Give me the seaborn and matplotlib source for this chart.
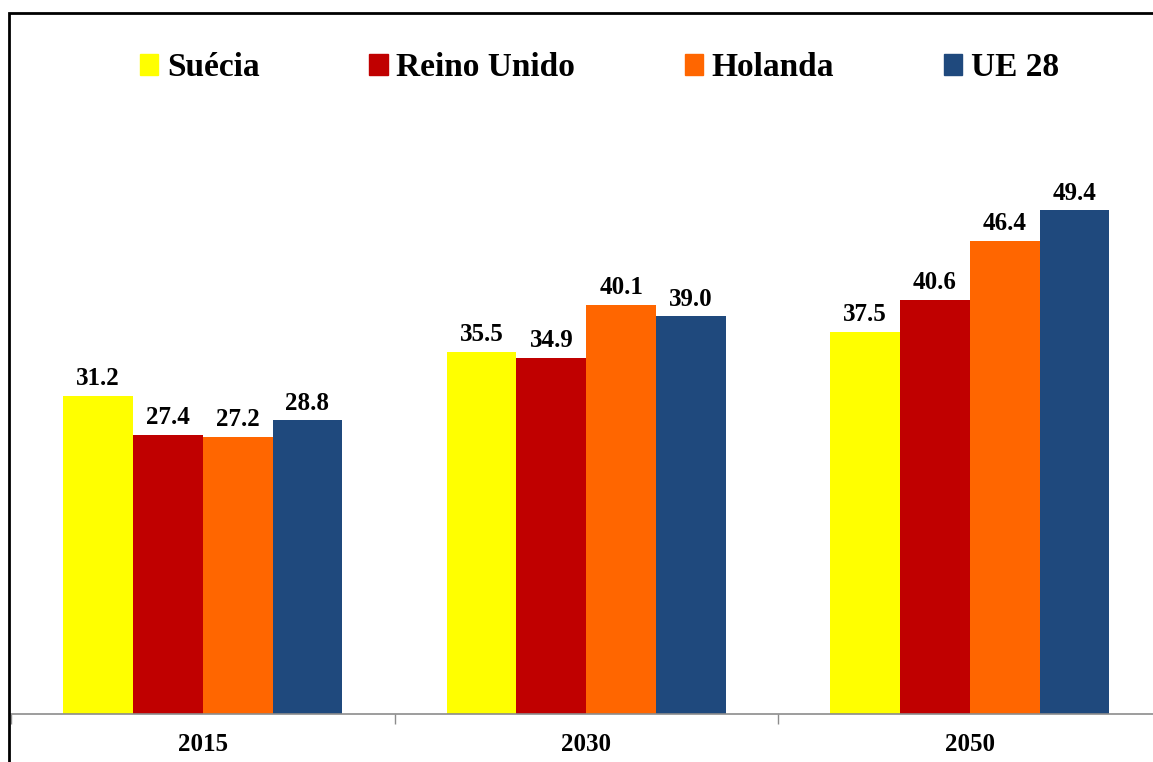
import pandas as pd
import seaborn as sns
import matplotlib.pyplot as plt
from matplotlib.patches import Rectangle

# data
years = ['2015', '2030', '2050']
countries = ['Suécia', 'Reino Unido', 'Holanda', 'UE 28']
suecia = [31.2, 35.5, 37.5]
reino_unido = [27.4, 34.9, 40.6]
holanda = [27.2, 40.1, 46.4]
ue28 = [28.8, 39.0, 49.4]
colors = ['#FFFF00', '#C00000', '#FF6600', '#1F497D']

rows = []
for name, vals in zip(countries, [suecia, reino_unido, holanda, ue28]):
    for yr, v in zip(years, vals):
        rows.append({'Ano': yr, 'País': name, 'Valor': v})
df = pd.DataFrame(rows)

sns.set_style('white')
plt.rcParams['font.family'] = ['Liberation Serif', 'DejaVu Serif']
plt.rcParams['font.weight'] = 'bold'
plt.rcParams['text.color'] = 'black'
plt.rcParams['xtick.color'] = 'black'

fig = plt.figure(figsize=(11.53, 7.62), dpi=100)
ax = fig.add_axes([11 / 1153, 48 / 762, 1150.5 / 1153, 612 / 762])

sns.barplot(data=df, x='Ano', y='Valor', hue='País', hue_order=countries,
            order=years, palette=colors, width=0.728, gap=0, ax=ax,
            saturation=1, linewidth=0, legend=True)

ax.set_ylim(0, 60)
ax.set_xlim(-0.5, 2.5)
ax.set_xlabel('')
ax.set_ylabel('')
ax.set_yticks([])

for c in ax.containers:
    ax.bar_label(c, fmt='%.1f', padding=4, fontsize=18, fontweight='bold',
                 color='black')

for s in ['top', 'right', 'left']:
    ax.spines[s].set_visible(False)
ax.spines['bottom'].set_color('#8c8c8c')
ax.spines['bottom'].set_linewidth(1.2)

ax.tick_params(axis='x', which='major', length=0, pad=14, labelsize=18,
               labelcolor='black')
for t in ax.get_xticklabels():
    t.set_fontweight('bold')
ax.set_xticks([-0.5, 0.5, 1.5, 2.5], minor=True)
ax.tick_params(axis='x', which='minor', length=7, width=1, color='#8c8c8c',
               direction='out', bottom=True)

ax.get_legend().remove()
handles = [Rectangle((0, 0), 1, 1, color=c) for c in colors]
leg = fig.legend(handles, countries, loc='center', bbox_to_anchor=(0.52, 0.911),
                 ncol=4, frameon=False, handlelength=0.55, handleheight=0.55,
                 handletextpad=0.25, columnspacing=3.3,
                 prop={'family': 'Liberation Serif', 'weight': 'bold', 'size': 24})
for t in leg.get_texts():
    t.set_color('black')

# figure border (cropped on the right and bottom)
fig.patches.append(Rectangle((8.5 / 1153, -0.05), 1.2, 1 - 12.5 / 762 + 0.05,
                             transform=fig.transFigure, fill=False,
                             edgecolor='black', linewidth=2))

fig.savefig('out.png', dpi=100)
